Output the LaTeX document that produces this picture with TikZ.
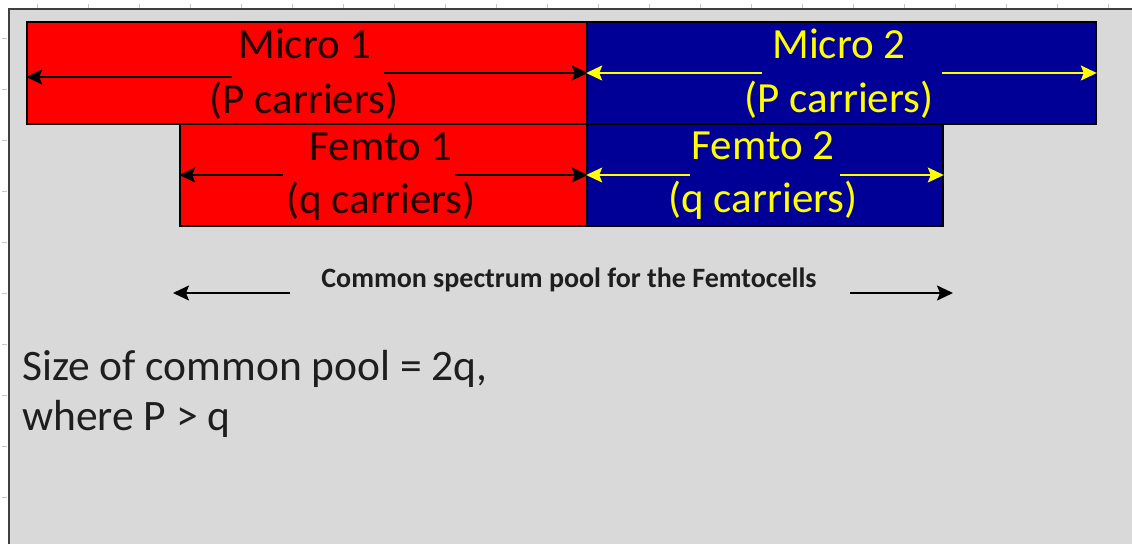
\documentclass[tikz,border=0pt]{standalone}
\usepackage{fontspec}
\setmainfont{Carlito}
\usetikzlibrary{arrows.meta}

\definecolor{cellred}{HTML}{FF0000}
\definecolor{cellblue}{HTML}{000096}
\definecolor{cellyellow}{HTML}{FFFF00}
\definecolor{panelgrey}{HTML}{D9D9D9}
\definecolor{edgegrey}{HTML}{404040}
\definecolor{tickgrey}{HTML}{C8C8C8}
\definecolor{inkdark}{HTML}{1E1E1E}
\definecolor{inkred}{HTML}{220000}

\begin{document}
\begin{tikzpicture}[x=1pt,y=-1pt,
  cellbox/.style={draw=black, line width=1.6pt, inner sep=0pt, minimum height=102pt},
  bigtext/.style={font=\fontsize{43}{52}\selectfont, inner sep=0pt, anchor=base},
  poolnote/.style={font=\fontsize{43.5}{52}\selectfont, inner sep=0pt, anchor=base west, text=inkdark},
  darkarrow/.style={draw=black, line width=1.8pt, -{Stealth[length=16pt,width=15pt,inset=3pt]}},
  lightarrow/.style={draw=cellyellow, line width=1.8pt, -{Stealth[length=16pt,width=15pt,inset=3pt]}},
  rulertick/.style={draw=tickgrey, line width=1pt}
]
\useasboundingbox (0,0) rectangle (1132,544);
\fill[white] (0,0) rectangle (1132,544);

% ruler ticks along the top and left edges
\foreach \k in {0,...,21} { \draw[rulertick] (37+51*\k,4) -- (37+51*\k,8); }
\foreach \k in {0,...,9} { \draw[rulertick] (2,38+51*\k) -- (7,38+51*\k); }

% grey panel with its top and left edge
\fill[panelgrey] (9,9) rectangle (1132,544);
\draw[edgegrey, line width=2pt] (9,544) -- (9,9) -- (1132,9);

% carrier bands
\node[cellbox, fill=cellred,  minimum width=560pt] (micro1) at (307,73) {};
\node[cellbox, fill=cellblue, minimum width=509pt] (micro2) at (841.5,73) {};
\node[cellbox, fill=cellred,  minimum width=407pt] (femto1) at (383.5,175) {};
\node[cellbox, fill=cellblue, minimum width=356pt] (femto2) at (765,175) {};

% band labels
\node[bigtext, text=inkred] (m1a) at (305,58) {Micro 1};
\node[bigtext, text=inkred] (m1b) at (304,113) {(P carriers)};
\node[bigtext, text=cellyellow] (m2a) at (839,58) {Micro 2};
\node[bigtext, text=cellyellow] (m2b) at (839,112) {(P carriers)};
\node[bigtext, text=inkred] (f1a) at (381,160) {Femto 1};
\node[bigtext, text=inkred] (f1b) at (381,213) {(q carriers)};
\node[bigtext, text=cellyellow] (f2a) at (763,159) {Femto 2};
\node[bigtext, text=cellyellow] (f2b) at (763,212) {(q carriers)};

% extent arrows inside the bands
\coordinate (m1l) at (232,77);
\coordinate (m1r) at (384,73);
\coordinate (m2l) at (762,73);
\coordinate (m2r) at (942,73);
\coordinate (f1l) at (283,175);
\coordinate (f1r) at (455,175);
\coordinate (f2l) at (690,175);
\coordinate (f2r) at (840,175);
\draw[darkarrow] (m1l) -- (micro1.west |- m1l);
\draw[darkarrow] (m1r) -- (micro1.east |- m1r);
\draw[lightarrow] (m2l) -- (micro2.west |- m2l);
\draw[lightarrow] (m2r) -- (micro2.east |- m2r);
\draw[darkarrow] (f1l) -- (femto1.west |- f1l);
\draw[darkarrow] (f1r) -- (femto1.east |- f1r);
\draw[lightarrow] (f2l) -- (femto2.west |- f2l);
\draw[lightarrow] (f2r) -- (femto2.east |- f2r);

% common pool span
\node[font=\bfseries\fontsize{28}{34}\selectfont, text=inkdark, inner sep=0pt, anchor=base] (pool) at (569,287) {Common spectrum pool for the Femtocells};
\coordinate (pl1) at (290,293);
\coordinate (pl2) at (173,293);
\coordinate (pr1) at (850,293);
\coordinate (pr2) at (953,293);
\draw[darkarrow] (pl1) -- (pl2);
\draw[darkarrow] (pr1) -- (pr2);

% size note
\node[poolnote] (note1) at (22,380) {Size of common pool = 2q,};
\node[poolnote] (note2) at (22,430) {where P > q};
\end{tikzpicture}
\end{document}
